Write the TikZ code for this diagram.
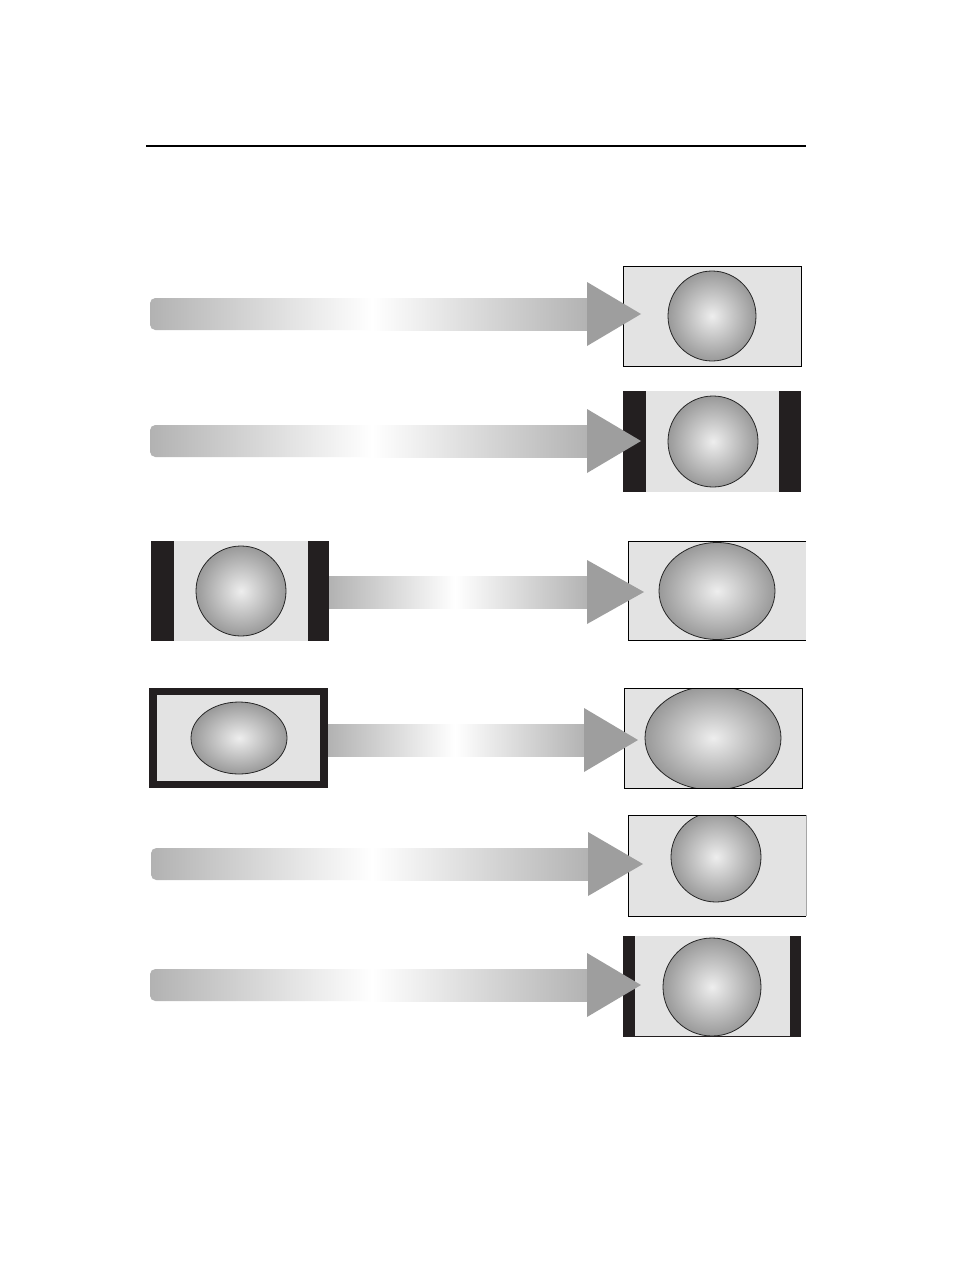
\documentclass[tikz,border=0pt]{standalone}
\usetikzlibrary{calc}
\definecolor{scrgrey}{HTML}{E3E3E3}
\definecolor{barblack}{HTML}{231F20}
\definecolor{arrowgrey}{HTML}{9E9E9E}
\definecolor{barend}{HTML}{B2B2B2}
\definecolor{ballin}{HTML}{EEEEEE}
\definecolor{ballout}{HTML}{999999}
\tikzset{
  screen/.style={fill=scrgrey,draw=black,line width=0.6pt},
  blackbar/.style={fill=barblack},
  ball/.style={inner color=ballin,outer color=ballout},
  ballline/.style={draw=black!85,line width=0.6pt},
  tip/.style={fill=arrowgrey},
}
\newcommand\gbarround[4]{%
  \shade[left color=barend,right color=white]
    (#2,#4) [rounded corners=4]-- (#1,#4) -- (#1,#4+32) [sharp corners]-- (#2,#4+32) -- cycle;
  \shade[left color=white,right color=barend] (#2,#4) rectangle (#3,#4+32);}
\newcommand\gbarflat[4]{%
  \shade[left color=barend,right color=white] (#1,#4) rectangle (#2,#4+32);
  \shade[left color=white,right color=barend] (#2,#4) rectangle (#3,#4+32);}
\newcommand\gtip[3]{\fill[tip] (#1,#2-32) -- (#3,#2) -- (#1,#2+32) -- cycle;}
\newcommand\gball[8]{%
  \begin{scope}
    \clip (#1,#2) rectangle (#3,#4);
    \shade[ball] (#5,#6) ellipse [x radius=#7,y radius=#8];
    \draw[ballline] (#5,#6) ellipse [x radius=#7,y radius=#8];
  \end{scope}}
\begin{document}
\begin{tikzpicture}[x=0.75pt,y=-0.75pt]
\useasboundingbox (0,0) rectangle (954,1267);
\fill[white] (0,0) rectangle (954,1267);
\draw[line width=0.9pt] (146,146) -- (806,146);

% ---- row 1
\gbarround{150}{372}{589}{298}
\node[screen,minimum width=178*0.75pt,minimum height=100*0.75pt,inner sep=0,anchor=north west] (s1) at (623,266) {};
\gball{623}{266}{801}{366}{712}{316}{44}{45}
\gtip{587}{314}{641}

% ---- row 2
\gbarround{150}{372}{589}{425}
\fill[blackbar] (623,391) rectangle (801,492);
\fill[scrgrey] (646,391) rectangle (779,492);
\gball{646}{391}{779}{492}{713}{441.5}{45}{45.5}
\gtip{587}{441}{641}

% ---- row 3
\fill[blackbar] (151,541) rectangle (329,641);
\fill[scrgrey] (174,541) rectangle (308,641);
\gball{174}{541}{308}{641}{241}{591}{45}{45}
\gbarflat{329}{455}{589}{576}
\fill[scrgrey] (628,541) rectangle (806,641);
\gball{628}{541}{806}{641}{717}{591}{58}{48.5}
\draw[line width=0.6pt] (806,541) -- (628,541) -- (628,641);
\draw[line width=1.1pt] (628,640.5) -- (806,640.5);
\gtip{587}{592}{644}

% ---- row 4
\fill[blackbar] (149,688) rectangle (328,788);
\fill[scrgrey] (157,695) rectangle (320,781);
\gball{157}{695}{320}{781}{239}{738}{48}{36}
\gbarflat{328}{455}{586}{724}
\fill[scrgrey] (624,688) rectangle (802,788);
\gball{624}{688}{802}{788}{713}{738}{68}{52}
\draw[line width=0.6pt] (624,688) rectangle (802,788);
\gtip{584}{740}{638}

% ---- row 5
\gbarround{151}{372}{590}{848}
\fill[scrgrey] (628,815) rectangle (806,916);
\gball{628}{815}{806}{916}{716}{857}{45}{45}
\draw[line width=0.6pt] (806,916) -- (628,916) -- (628,815) -- (806,815);
\draw[line width=0.6pt,black!35] (806,815) -- (806,916);
\gtip{588}{864}{643}

% ---- row 6
\gbarround{150}{372}{589}{969}
\fill[blackbar] (623,936) rectangle (801,1037);
\fill[scrgrey] (635,936) rectangle (790,1036);
\gball{635}{936}{790}{1036}{712}{987}{49}{49}
\gtip{587}{985}{641}
\end{tikzpicture}
\end{document}
